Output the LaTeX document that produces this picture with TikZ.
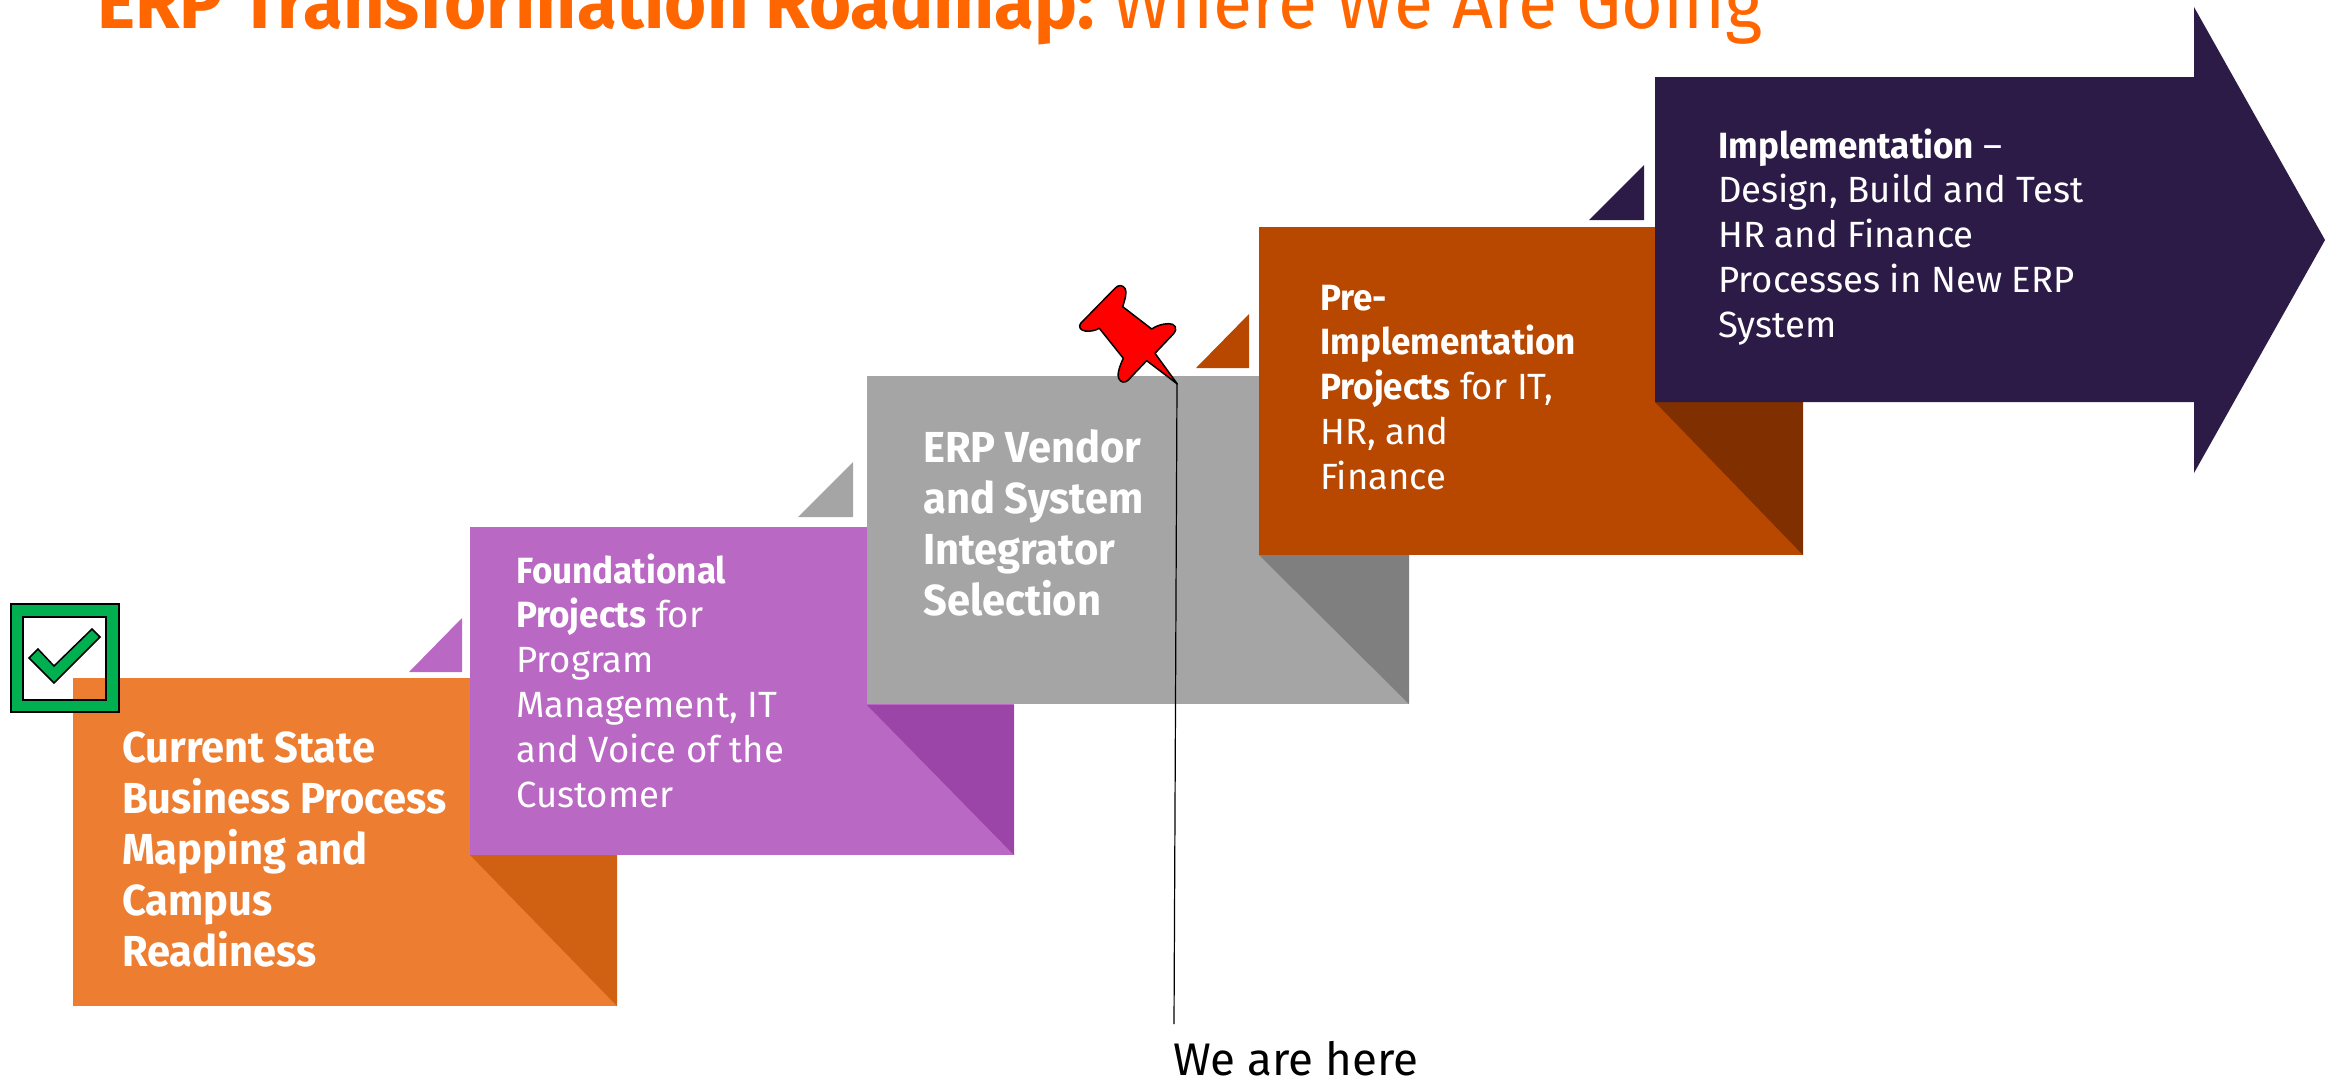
\documentclass[tikz,border=0pt]{standalone}
\usepackage{fontspec}
\setmainfont{Fira Sans}[BoldFeatures={FakeStretch=0.96}]
\newfontfamily\titlefont{Fira Sans}[FakeStretch=0.97]
\newfontfamily\titlefontb{Fira Sans}[FakeStretch=0.96]
\newfontfamily\herefont{Fira Sans}
\newcommand\txtlines[1]{\parbox[t]{560pt}{\raggedright #1}}
\definecolor{cOrange}{HTML}{ED7D31}\definecolor{cOrangeD}{HTML}{D06012}
\definecolor{cPurple}{HTML}{B968C4}\definecolor{cPurpleD}{HTML}{9C45A8}
\definecolor{cGray}{HTML}{A5A5A5}\definecolor{cGrayD}{HTML}{7F7F7F}
\definecolor{cRust}{HTML}{B84700}\definecolor{cRustD}{HTML}{7F2F00}
\definecolor{cNavy}{HTML}{2D1B47}\definecolor{cGreen}{HTML}{00B050}
\definecolor{cTitle}{HTML}{FF6600}
\tikzset{
  bigtext/.style={anchor=base west,inner sep=0pt,text=white,font=\fontsize{43.4}{51}\selectfont},
  smalltext/.style={anchor=base west,inner sep=0pt,text=white,font=\fontsize{36.5}{44.8}\selectfont},
}
\begin{document}
\begin{tikzpicture}[x=1pt,y=-1pt]
\useasboundingbox (0,0) rectangle (2331,1081);
\clip (0,0) rectangle (2331,1081);
% title
\node[anchor=base west,inner sep=0pt,text=cTitle,font=\titlefont\fontsize{74.5}{78}\selectfont] (title) at (97,29) {\textbf{ERP Transformation Roadmap:}\hspace*{-1.5pt} {\titlefontb Where We Are Going}};
% orange
\fill[cOrange] (73,678) rectangle (617,1006);
\fill[cOrangeD] (470,855) -- (617,855) -- (617,1006) -- cycle;
\fill[cPurple] (409,672) -- (462,672) -- (462,618) -- cycle;
\node[bigtext] (t1) at (122,762) {\txtlines{\textbf{Current State}\\\textbf{Business Process}\\\textbf{Mapping and}\\\textbf{Campus}\\\textbf{Readiness}}};
% purple
\fill[cPurple] (470,527) rectangle (1014,855);
\fill[cPurpleD] (867,705) -- (1014,705) -- (1014,855) -- cycle;
\fill[cGray] (798,517) -- (853,517) -- (853,462) -- cycle;
\node[smalltext] (t2) at (516,583) {\txtlines{\textbf{Foundational}\\\textbf{Projects} for\\Program\\Management, IT\\and Voice of the\\Customer}};
% gray
\fill[cGray] (867,376) rectangle (1409,704);
\fill[cGrayD] (1259,555) -- (1409,555) -- (1409,704) -- cycle;
\fill[cRust] (1196,368) -- (1249,368) -- (1249,314) -- cycle;
\node[bigtext] (t3) at (923,462.5) {\txtlines{\textbf{ERP Vendor}\\\textbf{and System}\\\textbf{Integrator}\\\textbf{Selection}}};
% rust
\fill[cRust] (1259,227) rectangle (1803,555);
\fill[cRustD] (1655,402) -- (1803,402) -- (1803,555) -- cycle;
\fill[cNavy] (1589,220) -- (1644,220) -- (1644,165) -- cycle;
\node[smalltext] (t4) at (1320,310) {\txtlines{\textbf{Pre-}\\\textbf{Implementation}\\\textbf{Projects} for IT,\\HR, and\\Finance}};
% navy arrow
\fill[cNavy] (1655,77) -- (2194,77) -- (2194,7) -- (2325,240) -- (2194,473) -- (2194,402) -- (1655,402) -- cycle;
\node[smalltext] (t5) at (1718,158) {\txtlines{\textbf{Implementation} --\\Design, Build and Test\\HR and Finance\\Processes in New ERP\\System}};
% check box
\fill[cGreen,even odd rule,draw=black,line width=1.5pt] (11,604) rectangle (119,712) (23,617) rectangle (106,700);
\fill[cGreen,draw=black,line width=1.5pt,line join=miter] (29,658) -- (38,649) -- (54,666) -- (92,629) -- (100,637) -- (54,683) -- cycle;
% we are here
\node[anchor=base west,inner sep=0pt,font=\herefont\fontsize{45.7}{50}\selectfont] (here) at (1173,1075) {We are here};
\coordinate (pintip) at (1177,383);
\coordinate (lineend) at (1174,1024);
\draw[black,line width=1.2pt] (pintip) -- (lineend);
% pin
\begin{scope}[shift={(1040,260)},x=0.3333pt,y=-0.3333pt]
\fill[red,draw=black,line width=1.5pt,line join=round]
 (412,372) -- (345,280) -- (400,222) .. controls (415,205) and (405,190) .. (385,191)
 .. controls (365,192) and (350,197) .. (335,207) -- (248,140)
 .. controls (255,120) and (262,95) .. (255,85) .. controls (248,75) and (235,73) .. (225,85)
 -- (122,190) .. controls (115,200) and (120,210) .. (135,213) .. controls (150,215) and (165,212) .. (178,205)
 -- (250,295) .. controls (240,315) and (230,345) .. (236,355) .. controls (242,368) and (255,370) .. (265,360)
 -- (320,302) -- cycle;
\end{scope}
\end{tikzpicture}
\end{document}
